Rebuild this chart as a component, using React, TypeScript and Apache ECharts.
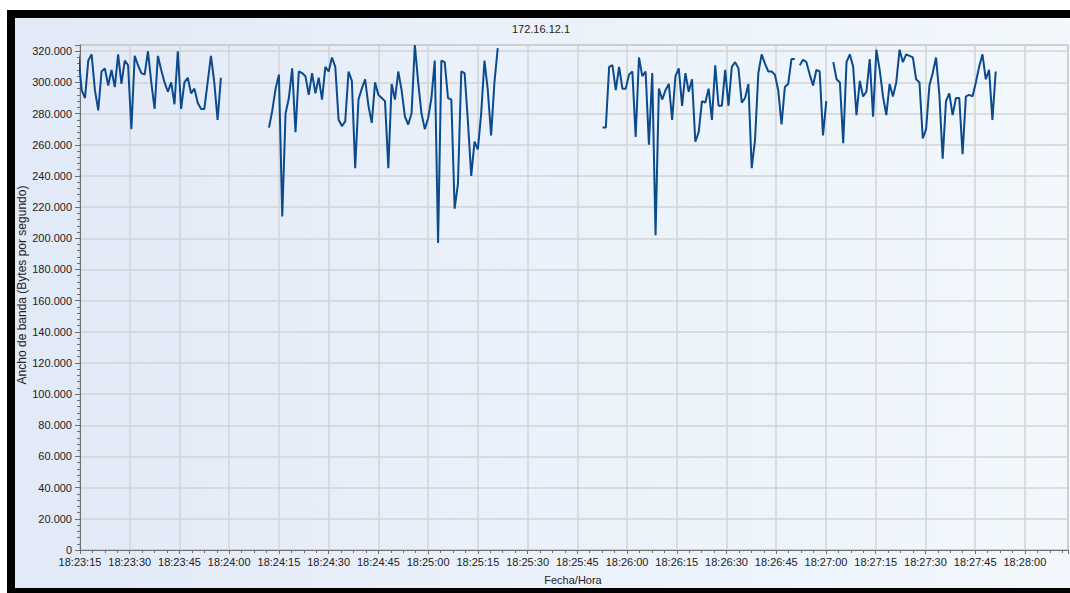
import React, { useEffect, useRef } from "react";
import * as echarts from "echarts";

const chartTitle = "172.16.12.1";
const xAxisTitle = "Fecha/Hora";
const yAxisTitle = "Ancho de banda (Bytes por segundo)";

// x axis: seconds after the origin time
const axisOrigin = "18:23:15";
const axisEndSeconds = 298;
const xTickSeconds = 15;

// y axis
const yMax = 324000;
const yStep = 20000;

// samples are one second apart inside each recorded segment
const sampleStepSeconds = 1;
const segmentStarts = ["18:23:14.5", "18:24:12.0", "18:25:52.6", "18:26:52.1", "18:27:02.2"];

const segment1 = [
  318000, 295000, 290000, 314000, 318000, 295000, 282000, 307000, 309000, 298000,
  308000, 297000, 318000, 299000, 314000, 311000, 270000, 317000, 311000, 306000,
  305000, 320000, 300000, 283000, 317000, 308000, 300000, 294000, 300000, 286000,
  320000, 283000, 300000, 303000, 293000, 296000, 287000, 283000, 283000, 300000,
  317000, 300000, 276000, 303000,
];

const segment2 = [
  271000, 282000, 296000, 305000, 214000, 280000, 290000, 309000, 268000, 307000,
  306000, 304000, 292000, 306000, 293000, 303000, 289000, 310000, 307000, 316000,
  310000, 276000, 272000, 275000, 307000, 301000, 245000, 289000, 296000, 302000,
  285000, 274000, 300000, 292000, 290000, 288000, 245000, 299000, 289000, 307000,
  295000, 278000, 273000, 280000, 324000, 300000, 280000, 270000, 277000, 290000,
  314000, 197000, 314000, 313000, 290000, 289000, 219000, 235000, 307000, 306000,
  275000, 240000, 262000, 257000, 280000, 314000, 295000, 266000, 300000, 322000,
];

const segment3 = [
  271000, 271000, 310000, 311000, 295000, 310000, 296000, 296000, 305000, 307000,
  265000, 316000, 304000, 307000, 260000, 306000, 202000, 296000, 289000, 295000,
  299000, 276000, 304000, 309000, 285000, 306000, 294000, 302000, 262000, 268000,
  288000, 287000, 296000, 276000, 311000, 285000, 285000, 308000, 285000, 310000,
  313000, 309000, 287000, 290000, 299000, 245000, 263000, 306000, 318000, 312000,
  307000, 307000, 305000, 295000, 273000, 297000, 299000, 315000, 315000,
];

const segment4 = [311000, 314500, 313000, 305000, 298000, 308000, 307000, 266000, 288000];

const segment5 = [
  313000, 302000, 300000, 261000, 313000, 318000, 310000, 279000, 301000, 291000,
  294000, 315000, 278000, 321000, 308000, 291000, 279000, 299000, 291000, 300000,
  321000, 313000, 318000, 317000, 316000, 302000, 300000, 264000, 270000, 298000,
  306000, 316000, 292000, 251000, 288000, 293000, 279000, 290000, 290000, 254000,
  291000, 292000, 291000, 300000, 310000, 318000, 302000, 308000, 276000, 307000,
];

const segments = [segment1, segment2, segment3, segment4, segment5];

const FONT = '"Liberation Sans", Arial, sans-serif';
const LINE_COLOR = "#0b4a8c";

function toSeconds(t: string): number {
  const [h, m, s] = t.split(":");
  return Number(h) * 3600 + Number(m) * 60 + Number(s);
}

function pad(n: number): string {
  return n < 10 ? "0" + n : String(n);
}

function formatClock(totalSeconds: number): string {
  const t = Math.round(totalSeconds);
  const h = Math.floor(t / 3600);
  const m = Math.floor((t % 3600) / 60);
  const s = t % 60;
  return `${pad(h)}:${pad(m)}:${pad(s)}`;
}

function formatThousands(v: number): string {
  return String(Math.round(v)).replace(/\B(?=(\d{3})+(?!\d))/g, ".");
}

const originSec = toSeconds(axisOrigin);

function buildSeries() {
  return segments.map((vals, i) => {
    const start = toSeconds(segmentStarts[i]) - originSec;
    return {
      type: "line" as const,
      data: vals.map((v, k) => [start + k * sampleStepSeconds, v]),
      showSymbol: false,
      symbol: "none",
      clip: false,
      lineStyle: { color: LINE_COLOR, width: 2 },
      itemStyle: { color: LINE_COLOR },
      emphasis: { disabled: true },
      z: 5,
    };
  });
}

export default function App() {
  const ref = useRef<HTMLDivElement>(null);

  useEffect(() => {
    if (!ref.current) return;
    const chart = echarts.init(ref.current, null, { renderer: "svg" });
    const axisColor = "#6f6f6f";
    const gridColor = "#d3d3d3";
    chart.setOption({
      animation: false,
      backgroundColor: "transparent",
      tooltip: { show: false },
      grid: {
        left: 80,
        right: 2,
        top: 45,
        bottom: 43,
        containLabel: false,
        outerBoundsMode: "none",
        show: true,
        borderColor: "#8c8c8c",
        borderWidth: 1,
        backgroundColor: "transparent",
      },
      xAxis: {
        type: "value",
        min: 0,
        max: axisEndSeconds,
        interval: xTickSeconds,
        axisLine: { show: true, onZero: false, lineStyle: { color: axisColor, width: 1 } },
        axisTick: { show: true, length: 4, lineStyle: { color: axisColor } },
        minorTick: { show: true, splitNumber: 4, length: 3, lineStyle: { color: axisColor } },
        splitLine: { show: true, lineStyle: { color: gridColor, width: 1.5 } },
        minorSplitLine: { show: false },
        axisLabel: {
          color: "#222",
          fontSize: 11,
          fontFamily: FONT,
          margin: 6,
          showMaxLabel: false,
          formatter: (v: number) => formatClock(originSec + v),
        },
      },
      yAxis: {
        type: "value",
        min: 0,
        max: yMax,
        interval: yStep,
        axisLine: { show: true, onZero: false, lineStyle: { color: axisColor, width: 1 } },
        axisTick: { show: true, length: 5, lineStyle: { color: axisColor } },
        minorTick: { show: true, splitNumber: 5, length: 3, lineStyle: { color: axisColor } },
        splitLine: { show: true, lineStyle: { color: gridColor, width: 1.5 } },
        axisLabel: {
          color: "#222",
          fontSize: 11,
          fontFamily: FONT,
          margin: 8,
          showMaxLabel: false,
          formatter: (v: number) => formatThousands(v),
        },
      },
      graphic: [
        {
          type: "text",
          x: 541,
          y: 29,
          style: { text: chartTitle, fill: "#222", font: `11px ${FONT}`, align: "center", verticalAlign: "middle" },
        },
        {
          type: "text",
          x: 573,
          y: 580,
          style: { text: xAxisTitle, fill: "#222", font: `11px ${FONT}`, align: "center", verticalAlign: "middle" },
        },
        {
          type: "text",
          x: 22,
          y: 285,
          rotation: Math.PI / 2,
          style: { text: yAxisTitle, fill: "#222", font: `12px ${FONT}`, align: "center", verticalAlign: "middle" },
        },
      ],
      series: buildSeries(),
    });
    return () => chart.dispose();
  }, []);

  return (
    <div
      style={{
        position: "absolute",
        left: 0,
        top: 0,
        width: 1070,
        height: 593,
        background: "#ffffff",
        overflow: "hidden",
      }}
    >
      <div
        style={{
          position: "absolute",
          left: 7,
          top: 10,
          width: 1080,
          height: 583,
          boxSizing: "border-box",
          borderTop: "8px solid #000",
          borderLeft: "8px solid #000",
          borderBottom: "5px solid #000",
          background: "linear-gradient(90deg, #e2e9f7 0%, #eaf1fa 45%, #f2f8fc 100%)",
        }}
      />
      <div ref={ref} style={{ position: "absolute", left: 0, top: 0, width: 1070, height: 593 }} />
    </div>
  );
}
